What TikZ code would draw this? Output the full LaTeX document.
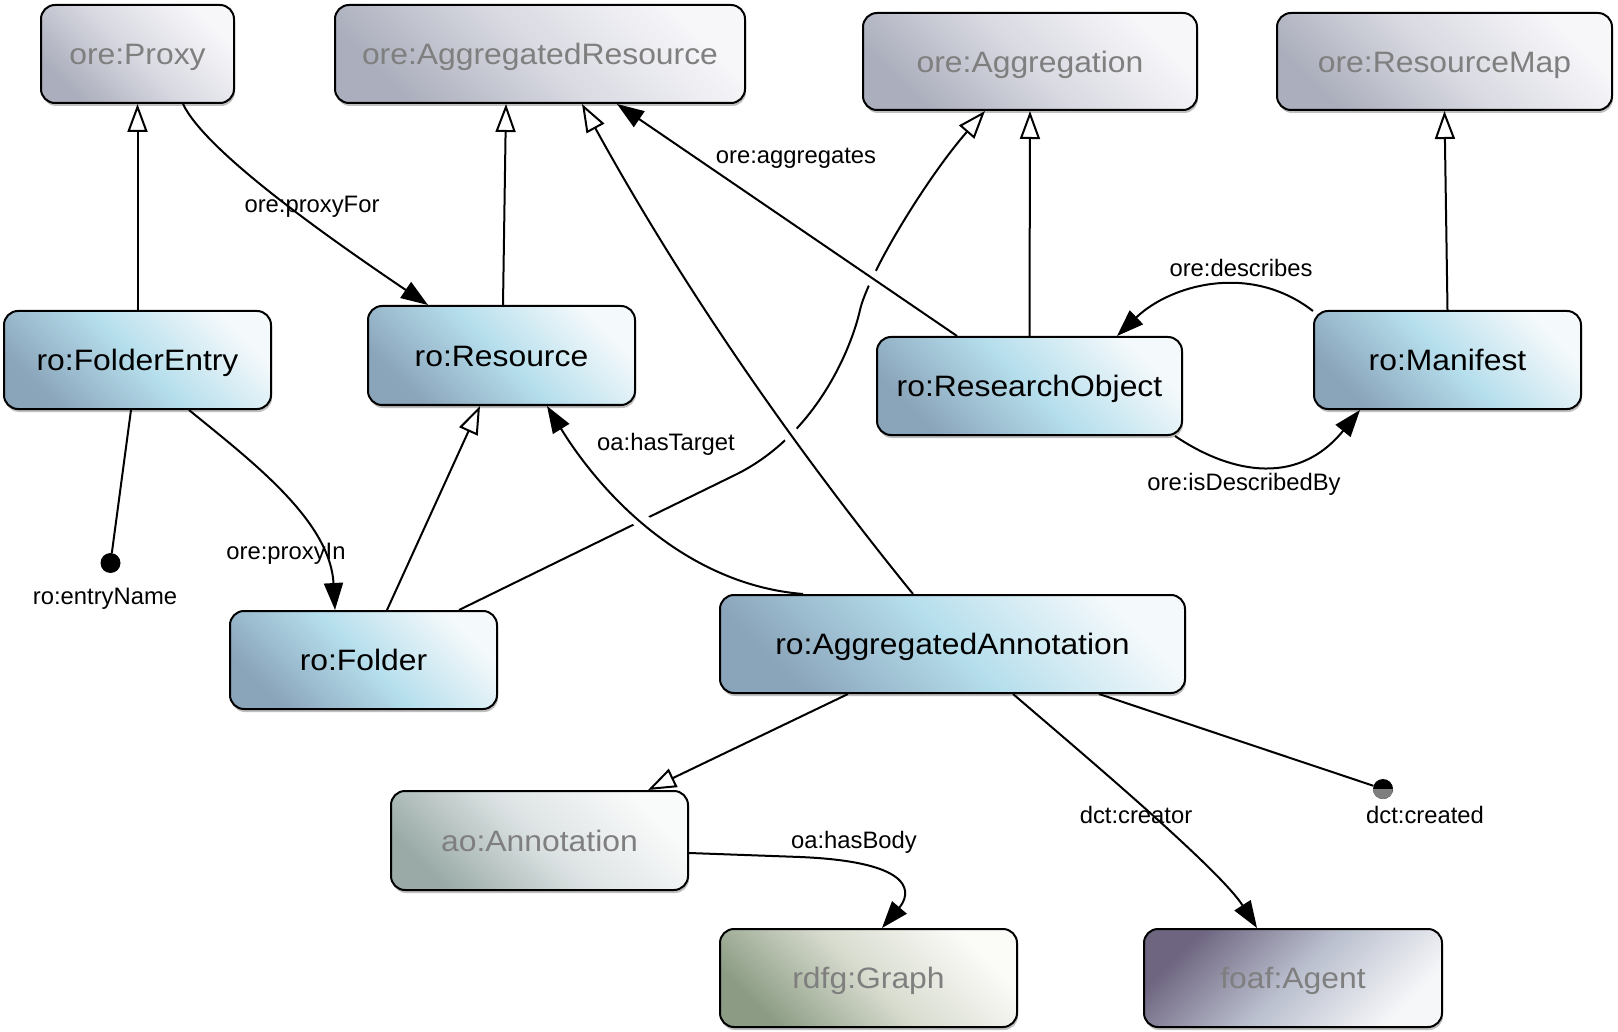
\documentclass[tikz,border=0pt]{standalone}
\usepackage{fontspec}
\setmainfont{Liberation Sans}
\newfontfamily\nodefont[FakeStretch=1.08]{Liberation Sans}
\usetikzlibrary{arrows.meta,shadows,calc}
\pgfdeclarelayer{edges}
\pgfsetlayers{edges,main}
\definecolor{blueDark}{HTML}{8AA4BA}
\definecolor{blueMid}{HTML}{B5DEEC}
\definecolor{blueLight}{HTML}{F4F9FB}
\definecolor{grayDark}{HTML}{ABAEBC}
\definecolor{grayMid}{HTML}{D9DAE2}
\definecolor{grayLight}{HTML}{F7F7FA}
\definecolor{annDark}{HTML}{9AABA7}
\definecolor{annMid}{HTML}{DCE2E3}
\definecolor{annLight}{HTML}{F9FAFA}
\definecolor{graphDark}{HTML}{8C9C84}
\definecolor{graphMid}{HTML}{D8DCCF}
\definecolor{graphLight}{HTML}{FBFBF8}
\definecolor{agentDark}{HTML}{6E6580}
\definecolor{agentMid}{HTML}{BABFCE}
\definecolor{agentLight}{HTML}{F6F7F9}
\definecolor{gtext}{HTML}{7F7F7F}
\tikzset{
  box/.style={draw=black, line width=2pt, rounded corners=14pt, inner sep=0pt,
    font=\nodefont\fontsize{29.5}{34}\selectfont, text height=21.5pt, text depth=0pt,
    drop shadow={shadow xshift=1pt, shadow yshift=-3pt, fill=black, opacity=0.25}},
  blueshade/.style={top color=blueDark, bottom color=blueLight, middle color=blueMid, shading angle=135},
  grayshade/.style={top color=grayDark, bottom color=grayLight, middle color=grayMid, shading angle=135, text=gtext},
  annshade/.style={top color=annDark, bottom color=annLight, middle color=annMid, shading angle=135, text=gtext},
  graphshade/.style={top color=graphDark, bottom color=graphLight, middle color=graphMid, shading angle=135, text=gtext},
  agentshade/.style={top color=agentDark, bottom color=agentLight, middle color=agentMid, shading angle=45, text=gtext},
  ln/.style={line width=2pt, draw=black},
  gen/.style={ln, -{Triangle[length=28pt, width=20pt, fill=white]}},
  assoc/.style={ln, -{Triangle[length=27pt, width=19pt]}},
  halo/.style={preaction={draw=white, line width=16pt, arrows=-}},
  lbl/.style={font=\fontsize{23.8}{28}\selectfont, inner sep=0pt, text height=17.3pt, text depth=0pt},
  dotnode/.style={circle, fill=black, minimum size=20pt, inner sep=0pt},
}
\begin{document}
\begin{tikzpicture}[x=1pt,y=-1pt]
\useasboundingbox (0,0) rectangle (1618,1032);
% nodes
\node[box,grayshade,minimum width=193pt,minimum height=98pt] (proxy) at (137.5,54) {ore:Proxy};
\node[box,grayshade,minimum width=410pt,minimum height=98pt] (aggres) at (540,54) {ore:AggregatedResource};
\node[box,grayshade,minimum width=334pt,minimum height=97pt] (aggregation) at (1030,61.5) {ore:Aggregation};
\node[box,grayshade,minimum width=335pt,minimum height=97pt] (resmap) at (1444.5,61.5) {ore:ResourceMap};
\node[box,blueshade,minimum width=267pt,minimum height=98pt] (fe) at (137.5,360) {ro:FolderEntry};
\node[box,blueshade,minimum width=267pt,minimum height=99pt] (resource) at (501.5,355.5) {ro:Resource};
\node[box,blueshade,minimum width=305pt,minimum height=98pt] (ro) at (1029.5,386) {ro:ResearchObject};
\node[box,blueshade,minimum width=267pt,minimum height=98pt] (manifest) at (1447.5,360) {ro:Manifest};
\node[box,blueshade,minimum width=267pt,minimum height=98pt] (folder) at (363.5,660) {ro:Folder};
\node[box,blueshade,minimum width=465pt,minimum height=98pt] (aggann) at (952.5,644) {ro:AggregatedAnnotation};
\node[box,annshade,minimum width=297pt,minimum height=99pt] (annotation) at (539.5,840.5) {ao:Annotation};
\node[box,graphshade,minimum width=297pt,minimum height=98pt] (graph) at (868.5,978) {rdfg:Graph};
\node[box,agentshade,minimum width=298pt,minimum height=98pt] (agent) at (1293,978) {foaf:Agent};
\node[dotnode] (en) at (110.5,563) {};
\node[dotnode, path picture={\fill[gtext] (path picture bounding box.west) rectangle (path picture bounding box.south east);}] (cr) at (1383,789) {};
% labels
\node[lbl] (lproxyfor) at (312,204) {ore:proxyFor};
\node[lbl] (laggregates) at (796,155) {ore:aggregates};
\node[lbl] (lhastarget) at (666,442) {oa:hasTarget};
\node[lbl] (lproxyin) at (286,551) {ore:proxyIn};
\node[lbl] (lentry) at (105,596) {ro:entryName};
\node[lbl] (ldescribes) at (1241,268) {ore:describes};
\node[lbl] (lisdesc) at (1244,482) {ore:isDescribedBy};
\node[lbl] (lbody) at (854,840) {oa:hasBody};
\node[lbl] (lcreator) at (1136,815) {dct:creator};
\node[lbl] (lcreated) at (1425,815) {dct:created};
% edges
\begin{pgfonlayer}{edges}
\draw[gen] ([xshift=95.5pt]folder.north) -- (735,475) .. controls (815,436) and (851,350) .. (860,310) .. controls (868,275) and (925,180) .. ([xshift=-45pt]aggregation.south);
\draw[assoc,halo] ([xshift=-149.5pt]aggann.north) .. controls (690,585) and (605,500) .. ([xshift=45.5pt]resource.south);
\draw[gen,halo] ([xshift=-39.5pt]aggann.north) .. controls (788,440) and (680,282) .. ([xshift=42pt]aggres.south);
\draw[assoc,halo] ([xshift=-72.5pt]ro.north) -- ([xshift=77pt]aggres.south);
\draw[gen] (fe.north) -- (proxy.south);
\draw[assoc] ([xshift=45.5pt]proxy.south) .. controls (205,150) and (320,232) .. ([xshift=-73.5pt]resource.north);
\draw[gen] ([xshift=1.5pt]resource.north) -- ([xshift=-34pt]aggres.south);
\draw[ln] ([xshift=-6.5pt]fe.south) -- (en);
\draw[assoc] ([xshift=51.5pt]fe.south) .. controls (250,460) and (330,520) .. ([xshift=-28.5pt]folder.north);
\draw[gen] ([xshift=23.5pt]folder.north) -- ([xshift=-21.5pt]resource.south);
\draw[gen] (ro.north) -- (aggregation.south);
\draw[gen] (manifest.north) -- (resmap.south);
\draw[assoc] (manifest.160) .. controls (1250,262) and (1170,285) .. ([xshift=87.5pt]ro.north);
\draw[assoc] ([xshift=-8pt]ro.south east) .. controls (1225,470) and (1295,490) .. ([xshift=-87.5pt]manifest.south);
\draw[gen] ([xshift=-104.5pt]aggann.south) -- ([xshift=108.5pt]annotation.north);
\draw[assoc] ([yshift=-12.5pt]annotation.east) -- (800,857) .. controls (920,862) and (910,895) .. ([xshift=13.5pt]graph.north);
\draw[assoc] ([xshift=60.5pt]aggann.south) .. controls (1090,760) and (1220,870) .. ([xshift=-36pt]agent.north);
\draw[ln] ([xshift=146.5pt]aggann.south) -- (cr);
\end{pgfonlayer}
\end{tikzpicture}
\end{document}
